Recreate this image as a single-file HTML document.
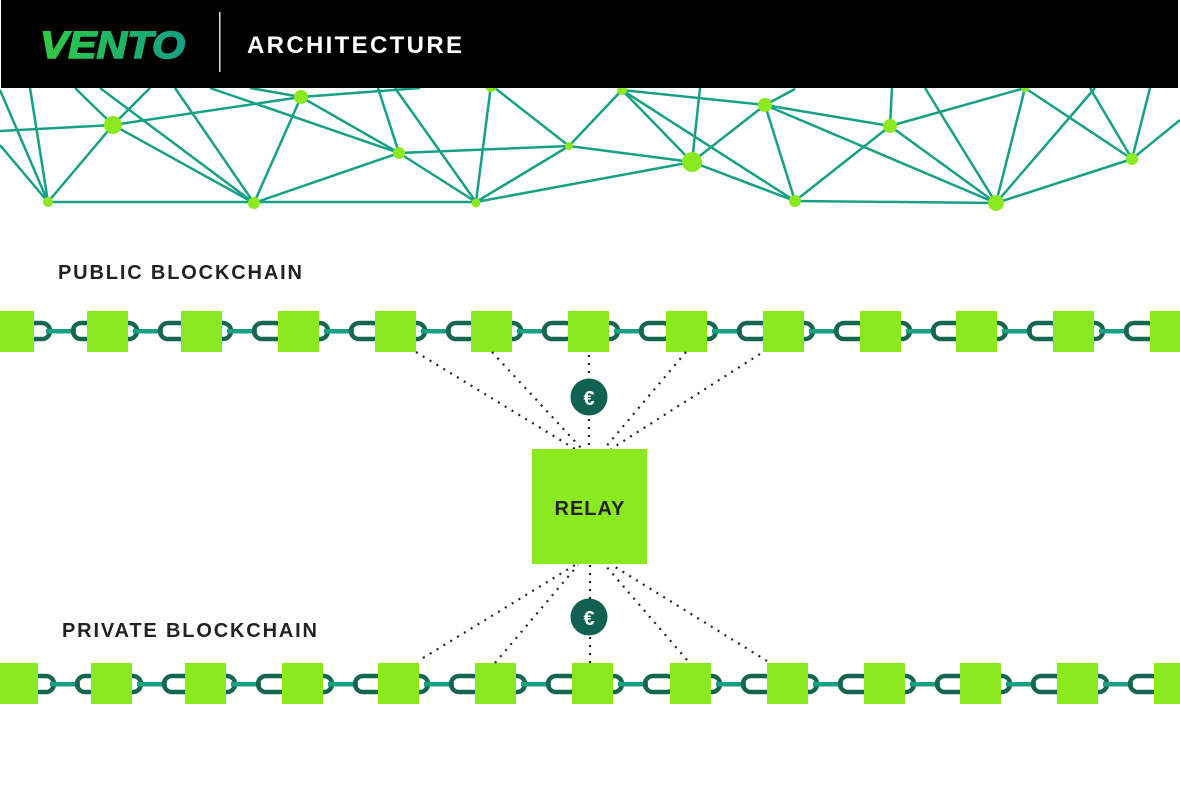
<!DOCTYPE html>
<html><head><meta charset="utf-8"><style>
html,body{margin:0;padding:0;background:#fff;width:1180px;height:787px;overflow:hidden}
</style></head><body>
<svg width="1180" height="787" viewBox="0 0 1180 787" xmlns="http://www.w3.org/2000/svg" font-family="Liberation Sans, sans-serif">
<defs>
<linearGradient id="vg" x1="0" x2="1" y1="0" y2="0"><stop offset="0" stop-color="#2ecc40"/><stop offset="1" stop-color="#14a085"/></linearGradient>
<g id="seg">
<rect x="24" y="-8" width="26" height="16" rx="8" fill="none" stroke="#156551" stroke-width="4.5"/>
<rect x="46" y="-2" width="30" height="4.5" fill="#16a085"/>
<rect x="73" y="-8" width="30" height="16" rx="8" fill="none" stroke="#156551" stroke-width="4.5"/>
</g>
</defs>
<g stroke="#16a085" stroke-width="2.5" fill="none">
<line x1="48" y1="202" x2="476" y2="202"/><line x1="476" y1="202" x2="692" y2="162"/>
<line x1="795" y1="201" x2="996" y2="203"/>
<line x1="0" y1="90" x2="48" y2="202"/><line x1="0" y1="145" x2="48" y2="202"/>
<line x1="30" y1="88" x2="48" y2="202"/><line x1="48" y1="202" x2="113" y2="125"/>
<line x1="113" y1="125" x2="150" y2="88"/><line x1="75" y1="88" x2="113" y2="125"/>
<line x1="0" y1="131" x2="113" y2="125"/><line x1="113" y1="125" x2="301" y2="97"/>
<line x1="113" y1="125" x2="254" y2="203"/><line x1="100" y1="88" x2="254" y2="203"/>
<line x1="175" y1="88" x2="254" y2="203"/><line x1="254" y1="203" x2="301" y2="97"/>
<line x1="254" y1="203" x2="399" y2="153"/><line x1="210" y1="88" x2="399" y2="153"/>
<line x1="301" y1="97" x2="399" y2="153"/><line x1="301" y1="97" x2="420" y2="88"/>
<line x1="250" y1="88" x2="301" y2="97"/>
<line x1="378" y1="88" x2="399" y2="153"/><line x1="395" y1="88" x2="476" y2="202"/>
<line x1="399" y1="153" x2="476" y2="202"/><line x1="399" y1="153" x2="569" y2="146"/>
<line x1="476" y1="202" x2="491" y2="85"/><line x1="476" y1="202" x2="569" y2="146"/>
<line x1="491" y1="85" x2="569" y2="146"/><line x1="569" y1="146" x2="622" y2="90"/>
<line x1="569" y1="146" x2="692" y2="162"/>
<line x1="622" y1="90" x2="692" y2="162"/><line x1="622" y1="90" x2="795" y2="201"/>
<line x1="622" y1="90" x2="765" y2="105"/><line x1="700" y1="88" x2="692" y2="162"/>
<line x1="692" y1="162" x2="765" y2="105"/><line x1="692" y1="162" x2="795" y2="201"/>
<line x1="765" y1="105" x2="795" y2="89"/><line x1="765" y1="105" x2="795" y2="201"/>
<line x1="765" y1="105" x2="890" y2="126"/><line x1="765" y1="105" x2="996" y2="203"/>
<line x1="795" y1="201" x2="890" y2="126"/><line x1="890" y1="126" x2="996" y2="203"/>
<line x1="890" y1="126" x2="1025" y2="88"/><line x1="892" y1="88" x2="890" y2="126"/>
<line x1="925" y1="88" x2="996" y2="203"/><line x1="996" y1="203" x2="1025" y2="88"/>
<line x1="996" y1="203" x2="1095" y2="88"/><line x1="996" y1="203" x2="1132" y2="159"/>
<line x1="1025" y1="88" x2="1132" y2="159"/><line x1="1090" y1="88" x2="1132" y2="159"/>
<line x1="1150" y1="88" x2="1132" y2="159"/><line x1="1132" y1="159" x2="1180" y2="120"/>
</g>
<g fill="#8bea1f">
<circle cx="48" cy="202" r="5"/><circle cx="113" cy="125" r="9"/><circle cx="254" cy="203" r="6"/>
<circle cx="301" cy="97" r="7"/><circle cx="399" cy="153" r="6"/><circle cx="476" cy="203" r="4.5"/>
<circle cx="491" cy="86" r="6"/><circle cx="569" cy="146" r="4"/><circle cx="622" cy="90" r="5"/>
<circle cx="692" cy="162" r="10"/><circle cx="765" cy="105" r="7"/><circle cx="795" cy="201" r="6"/>
<circle cx="890" cy="126" r="7"/><circle cx="996" cy="203" r="8"/><circle cx="1132" cy="159" r="6"/>
<circle cx="1025" cy="88" r="4"/>
</g>
<rect x="1" y="0" width="1177" height="88" fill="#000"/>
<text x="40" y="58" font-size="38" font-weight="bold" font-style="italic" fill="url(#vg)" textLength="145" lengthAdjust="spacingAndGlyphs" stroke="url(#vg)" stroke-width="1.5">VENTO</text>
<rect x="219" y="12" width="1.5" height="60" fill="#ddd"/>
<text x="247" y="53" font-size="24" font-weight="bold" fill="#fff" textLength="215" lengthAdjust="spacing">ARCHITECTURE</text>
<text x="58" y="279" font-size="20" font-weight="bold" fill="#222" textLength="244" lengthAdjust="spacing">PUBLIC BLOCKCHAIN</text>
<text x="62" y="637" font-size="20" font-weight="bold" fill="#222" textLength="255" lengthAdjust="spacing">PRIVATE BLOCKCHAIN</text>
<g transform="translate(0,331)">
<use href="#seg" x="0"/><use href="#seg" x="87"/><use href="#seg" x="181"/><use href="#seg" x="278"/><use href="#seg" x="375"/><use href="#seg" x="471"/><use href="#seg" x="568"/><use href="#seg" x="666"/><use href="#seg" x="763"/><use href="#seg" x="860"/><use href="#seg" x="956"/><use href="#seg" x="1053"/>
</g>
<g fill="#8bea1f">
<rect x="0" y="311" width="34" height="41"/><rect x="87" y="311" width="41" height="41"/><rect x="181" y="311" width="41" height="41"/><rect x="278" y="311" width="41" height="41"/><rect x="375" y="311" width="41" height="41"/><rect x="471" y="311" width="41" height="41"/><rect x="568" y="311" width="41" height="41"/><rect x="666" y="311" width="41" height="41"/><rect x="763" y="311" width="41" height="41"/><rect x="860" y="311" width="41" height="41"/><rect x="956" y="311" width="41" height="41"/><rect x="1053" y="311" width="41" height="41"/><rect x="1150" y="311" width="30" height="41"/>
</g>
<g transform="translate(4,684)">
<use href="#seg" x="0"/><use href="#seg" x="87"/><use href="#seg" x="181"/><use href="#seg" x="278"/><use href="#seg" x="374"/><use href="#seg" x="471"/><use href="#seg" x="568"/><use href="#seg" x="666"/><use href="#seg" x="763"/><use href="#seg" x="860"/><use href="#seg" x="956"/><use href="#seg" x="1053"/>
</g>
<g fill="#8bea1f">
<rect x="0" y="663" width="38" height="41"/><rect x="91" y="663" width="41" height="41"/><rect x="185" y="663" width="41" height="41"/><rect x="282" y="663" width="41" height="41"/><rect x="378" y="663" width="41" height="41"/><rect x="475" y="663" width="41" height="41"/><rect x="572" y="663" width="41" height="41"/><rect x="670" y="663" width="41" height="41"/><rect x="767" y="663" width="41" height="41"/><rect x="864" y="663" width="41" height="41"/><rect x="960" y="663" width="41" height="41"/><rect x="1057" y="663" width="41" height="41"/><rect x="1154" y="663" width="26" height="41"/>
</g>
<g stroke="#222" stroke-width="2.2" stroke-dasharray="2 6" fill="none">
<line x1="416" y1="352" x2="575" y2="449"/><line x1="492" y1="352" x2="582" y2="449"/>
<line x1="589" y1="355" x2="589" y2="449"/><line x1="686" y1="352" x2="604" y2="449"/>
<line x1="760" y1="354" x2="611" y2="449"/>
<line x1="423" y1="658" x2="575" y2="565"/><line x1="495" y1="663" x2="578" y2="565"/>
<line x1="590" y1="663" x2="590" y2="565"/><line x1="687" y1="660" x2="605" y2="565"/>
<line x1="767" y1="661" x2="612" y2="565"/>
</g>
<rect x="532" y="449" width="115" height="115" fill="#8bea1f"/>
<text x="590" y="515" font-size="20" font-weight="bold" fill="#222" text-anchor="middle" letter-spacing="1">RELAY</text>
<circle cx="589" cy="397" r="18.5" fill="#116152"/>
<text x="589" y="405" font-size="20" font-weight="bold" fill="#fff" text-anchor="middle">€</text>
<circle cx="589" cy="617" r="18.5" fill="#116152"/>
<text x="589" y="625" font-size="20" font-weight="bold" fill="#fff" text-anchor="middle">€</text>
</svg>
</body></html>
